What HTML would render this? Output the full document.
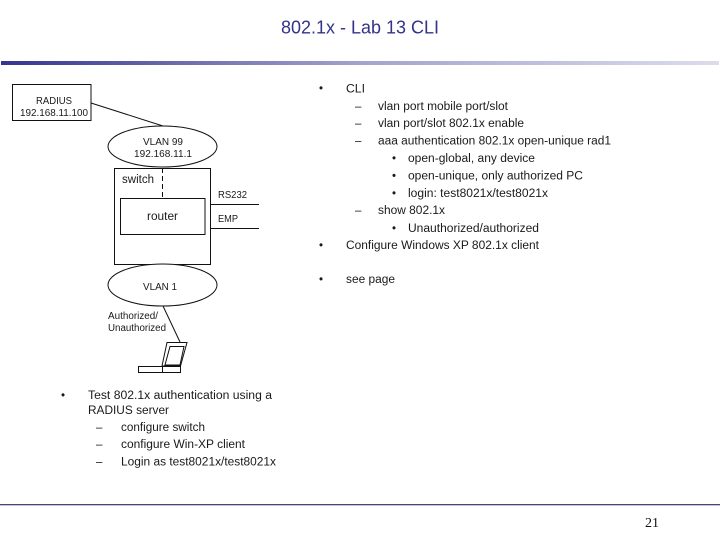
<!DOCTYPE html>
<html>
<head>
<meta charset="utf-8">
<style>
html,body{margin:0;padding:0;background:#fff;width:720px;height:540px;overflow:hidden}
svg{display:block}
text{font-family:"Liberation Sans",sans-serif;fill:#1a1a1a}
.d{font-size:10px}
.b{font-size:11.5px}
</style>
</head>
<body>
<svg width="720" height="540" viewBox="0 0 720 540" xmlns="http://www.w3.org/2000/svg">
<defs>
<linearGradient id="g" x1="0" x2="1" y1="0" y2="0">
<stop offset="0" stop-color="#35358f"/>
<stop offset="0.5" stop-color="#a3a3cd"/>
<stop offset="1" stop-color="#dcdcec"/>
</linearGradient>
</defs>
<text x="281" y="33.5" font-size="18" textLength="158" lengthAdjust="spacingAndGlyphs" style="fill:#33338a">802.1x - Lab 13 CLI</text>
<rect x="1" y="61" width="718" height="4" fill="url(#g)"/>

<g fill="none" stroke="#111" stroke-width="1" shape-rendering="crispEdges">
<rect x="12.5" y="84.5" width="78.5" height="36"/>
<rect x="114.5" y="168.5" width="96" height="96"/>
<rect x="120.5" y="198.5" width="84.5" height="36"/>
<line x1="211" y1="204.5" x2="259" y2="204.5"/>
<line x1="211" y1="228.5" x2="259" y2="228.5"/>
<line x1="162.5" y1="168" x2="162.5" y2="198" stroke-dasharray="5 3"/>
<rect x="138.5" y="366.5" width="42" height="6"/>
<line x1="162.5" y1="366" x2="162.5" y2="372"/>
</g>
<g fill="none" stroke="#111" stroke-width="1">
<line x1="91" y1="103" x2="163" y2="126"/>
<ellipse cx="162.5" cy="146.5" rx="54.5" ry="20.5" fill="#fff"/>
<ellipse cx="162.5" cy="285" rx="54.5" ry="21" fill="#fff"/>
<line x1="163" y1="306" x2="180" y2="342"/>
<polygon points="167,342.5 187,342.5 180.5,366 162,366"/>
<polygon points="170,346.5 184,346.5 180,365 165,365"/>
</g>

<text class="d" x="36" y="104" textLength="36" lengthAdjust="spacingAndGlyphs">RADIUS</text>
<text class="d" x="20" y="116" textLength="68" lengthAdjust="spacingAndGlyphs">192.168.11.100</text>
<text class="d" x="143" y="145" textLength="40" lengthAdjust="spacingAndGlyphs">VLAN 99</text>
<text class="d" x="134" y="157" textLength="58" lengthAdjust="spacingAndGlyphs">192.168.11.1</text>
<text x="122" y="183" font-size="11.5" textLength="32" lengthAdjust="spacingAndGlyphs">switch</text>
<text x="147" y="220" font-size="11.5" textLength="31" lengthAdjust="spacingAndGlyphs">router</text>
<text class="d" x="218" y="198" textLength="29" lengthAdjust="spacingAndGlyphs">RS232</text>
<text class="d" x="218" y="222" textLength="20" lengthAdjust="spacingAndGlyphs">EMP</text>
<text class="d" x="143" y="290" textLength="34" lengthAdjust="spacingAndGlyphs">VLAN 1</text>
<text class="d" x="108" y="319" textLength="50" lengthAdjust="spacingAndGlyphs">Authorized/</text>
<text class="d" x="108" y="331" textLength="58" lengthAdjust="spacingAndGlyphs">Unauthorized</text>

<g class="b">
<text class="b" x="319" y="92">•</text>
<text class="b" x="346" y="92.5" textLength="19" lengthAdjust="spacingAndGlyphs">CLI</text>
<text class="b" x="355" y="110">–</text>
<text class="b" x="378" y="110" textLength="130" lengthAdjust="spacingAndGlyphs">vlan port mobile port/slot</text>
<text class="b" x="355" y="127">–</text>
<text class="b" x="378" y="127" textLength="146" lengthAdjust="spacingAndGlyphs">vlan port/slot 802.1x enable</text>
<text class="b" x="355" y="144.5">–</text>
<text class="b" x="378" y="144.5" textLength="233" lengthAdjust="spacingAndGlyphs">aaa authentication 802.1x open-unique rad1</text>
<text class="b" x="392" y="162">•</text>
<text class="b" x="408" y="162" textLength="127" lengthAdjust="spacingAndGlyphs">open-global, any device</text>
<text class="b" x="392" y="179.5">•</text>
<text class="b" x="408" y="179.5" textLength="175" lengthAdjust="spacingAndGlyphs">open-unique, only authorized PC</text>
<text class="b" x="392" y="197">•</text>
<text class="b" x="408" y="197" textLength="140" lengthAdjust="spacingAndGlyphs">login: test8021x/test8021x</text>
<text class="b" x="355" y="214">–</text>
<text class="b" x="378" y="214" textLength="67" lengthAdjust="spacingAndGlyphs">show 802.1x</text>
<text class="b" x="392" y="232">•</text>
<text class="b" x="408" y="232" textLength="131" lengthAdjust="spacingAndGlyphs">Unauthorized/authorized</text>
<text class="b" x="319" y="249">•</text>
<text class="b" x="346" y="249" textLength="193" lengthAdjust="spacingAndGlyphs">Configure Windows XP 802.1x client</text>
<text class="b" x="319" y="283">•</text>
<text class="b" x="346" y="283" textLength="49" lengthAdjust="spacingAndGlyphs">see page</text>

<text class="b" x="61" y="399">•</text>
<text class="b" x="88" y="399" textLength="184" lengthAdjust="spacingAndGlyphs">Test 802.1x authentication using a</text>
<text class="b" x="88" y="414" textLength="81" lengthAdjust="spacingAndGlyphs">RADIUS server</text>
<text class="b" x="96" y="431">–</text>
<text class="b" x="121" y="431" textLength="84" lengthAdjust="spacingAndGlyphs">configure switch</text>
<text class="b" x="96" y="448">–</text>
<text class="b" x="121" y="448" textLength="124" lengthAdjust="spacingAndGlyphs">configure Win-XP client</text>
<text class="b" x="96" y="465.5">–</text>
<text class="b" x="121" y="465.5" textLength="155" lengthAdjust="spacingAndGlyphs">Login as test8021x/test8021x</text>
</g>

<rect x="0" y="504" width="720" height="1.3" fill="#45457a"/>
<text x="645" y="527" font-size="14" textLength="14" lengthAdjust="spacingAndGlyphs" style="font-family:'Liberation Serif',serif;fill:#111">21</text>
</svg>
</body>
</html>
